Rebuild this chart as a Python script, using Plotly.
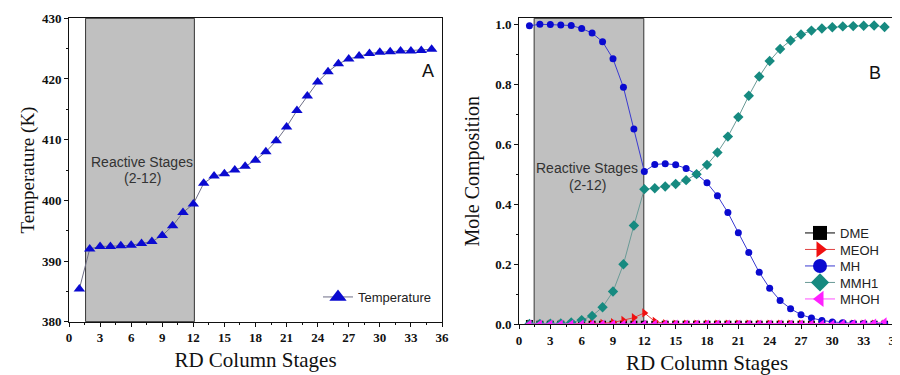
import plotly.graph_objects as go

# ---------------- data ----------------
stages = list(range(1, 36))

temperature = [385.4, 392.0, 392.4, 392.4, 392.5, 392.6, 392.9, 393.2, 394.2, 395.8,
               398.0, 399.4, 402.8, 404.0, 404.4, 405.0, 405.6, 406.6, 408.0, 409.8,
               412.1, 414.8, 417.2, 419.5, 421.2, 422.5, 423.3, 423.8, 424.2, 424.4,
               424.5, 424.6, 424.6, 424.7, 424.9]

dme = [0.003] + [0.0] * 34
meoh = [0.001, 0.001, 0.001, 0.001, 0.001, 0.001, 0.002, 0.003, 0.006, 0.013,
        0.022, 0.038, 0.010, 0.002, 0.001, 0.001, 0.001, 0.001, 0.001, 0.001,
        0.001, 0.001, 0.001, 0.001, 0.001, 0.001, 0.001, 0.001, 0.001, 0.001,
        0.001, 0.001, 0.001, 0.001, 0.001]
mh = [0.994, 0.999, 0.998, 0.997, 0.995, 0.985, 0.970, 0.941, 0.884, 0.789,
      0.650, 0.509, 0.532, 0.535, 0.531, 0.519, 0.500, 0.471, 0.428, 0.372,
      0.305, 0.239, 0.173, 0.120, 0.079, 0.052, 0.032, 0.021, 0.013, 0.008,
      0.005, 0.003, 0.002, 0.001, 0.001]
mmh1 = [0.001, 0.001, 0.002, 0.003, 0.006, 0.014, 0.028, 0.057, 0.109, 0.200,
        0.329, 0.450, 0.453, 0.459, 0.467, 0.480, 0.500, 0.531, 0.572, 0.625,
        0.690, 0.761, 0.825, 0.877, 0.917, 0.945, 0.965, 0.978, 0.985, 0.989,
        0.992, 0.993, 0.994, 0.995, 0.990]
mhoh = [0.001, 0.001, 0.001, 0.001, 0.001, 0.001, 0.001, 0.001, 0.001, 0.001,
        0.001, 0.001, 0.001, 0.001, 0.001, 0.001, 0.001, 0.001, 0.001, 0.001,
        0.001, 0.001, 0.001, 0.001, 0.001, 0.001, 0.001, 0.001, 0.001, 0.001,
        0.002, 0.002, 0.003, 0.004, 0.008]

x_ticks = [0, 3, 6, 9, 12, 15, 18, 21, 24, 27, 30, 33, 36]
temp_ticks = [380, 390, 400, 410, 420, 430]
comp_ticks = [0.0, 0.2, 0.4, 0.6, 0.8, 1.0]
x_ticktext = [f"<b>{v}</b>" for v in x_ticks]
temp_ticktext = [f"<b>{v}</b>" for v in temp_ticks]
comp_ticktext = [f"<b>{v:.1f}</b>" for v in comp_ticks]

reactive_left = (1.6, 12.1)
reactive_right = (1.45, 11.95)

# ---------------- styling ----------------
W, H, OFF = 900, 375, 8   # page body offset


def px(x):
    return (x - OFF) / W


def py(y):
    return 1 - (y - OFF) / H


SERIF = "Liberation Serif"
SANS = "Liberation Sans"
BLUE = "#0a0ad0"
TEAL = "#168a80"
RED = "#f01010"
MAGENTA = "#ff20ff"

fig = go.Figure()

fig.add_trace(go.Scatter(
    x=stages, y=temperature, name="Temperature", mode="lines+markers",
    line=dict(color="#6e6e86", width=1),
    marker=dict(symbol="triangle-up", size=10, color=BLUE),
    xaxis="x", yaxis="y", showlegend=False))
fig.add_trace(go.Scatter(
    x=[None], y=[None], name="Temperature", mode="lines+markers",
    line=dict(color="#6e6e86", width=1),
    marker=dict(symbol="triangle-up", size=15, color=BLUE),
    xaxis="x", yaxis="y", legend="legend"))

series = [
    ("DME", dme, "square", "#000000", "#000000", 7, "legend2"),
    ("MEOH", meoh, "triangle-right", RED, "#e04040", 8, "legend3"),
    ("MH", mh, "circle", BLUE, "#3a3ad0", 7, "legend4"),
    ("MMH1", mmh1, "diamond", TEAL, "#6a9a96", 8, "legend5"),
    ("MHOH", mhoh, "triangle-left", MAGENTA, "#ff50ff", 8, "legend6"),
]
for name, vals, sym, col, lcol, sz, lg in series:
    fig.add_trace(go.Scatter(
        x=stages, y=vals, name=name, mode="lines+markers",
        line=dict(color=lcol, width=1),
        marker=dict(symbol=sym, size=sz, color=col),
        xaxis="x2", yaxis="y2", showlegend=False))
for name, vals, sym, col, lcol, sz, lg in series:
    fig.add_trace(go.Scatter(
        x=[None], y=[None], name=name, mode="lines+markers",
        line=dict(color=lcol, width=1),
        marker=dict(symbol=sym, size=14, color=col),
        xaxis="x2", yaxis="y2", legend=lg))

# reactive-stage shading
fig.add_shape(type="rect", xref="x", yref="y domain", x0=reactive_left[0], x1=reactive_left[1],
              y0=0, y1=1, fillcolor="#c0c0c0", line=dict(color="#333333", width=1), layer="below")
fig.add_shape(type="rect", xref="x2", yref="y2 domain", x0=reactive_right[0], x1=reactive_right[1],
              y0=0, y1=1, fillcolor="#c0c0c0", line=dict(color="#333333", width=1), layer="below")


def tickfont():
    return dict(family=SERIF, size=13, color="#111111")


def titlefont(size=20):
    return dict(family=SERIF, size=size, color="#111111")


def main_x(domain, anchor):
    return dict(domain=domain, anchor=anchor, range=[0, 36],
                tickmode="array", tickvals=x_ticks, ticktext=x_ticktext,
                ticks="outside", ticklen=4, tickwidth=1, tickcolor="#111",
                minor=dict(dtick=1.5, tick0=0, ticks="outside", ticklen=2, tickcolor="#111"),
                showline=True, linecolor="#111", linewidth=1, mirror=True,
                showgrid=False, zeroline=False, tickfont=tickfont(),
                title=dict(text="RD Column Stages", font=titlefont(21), standoff=8))


def overlay_x(over, anchor):
    return dict(overlaying=over, anchor=anchor, side="top", range=[0, 36], tickvals=x_ticks,
                ticks="inside", ticklen=4, tickcolor="#111", showticklabels=False,
                minor=dict(dtick=1.5, tick0=0, ticks="inside", ticklen=2, tickcolor="#111"),
                showline=False, showgrid=False, zeroline=False)


fig.update_layout(
    width=W, height=H, margin=dict(l=0, r=0, t=0, b=0, autoexpand=False),
    paper_bgcolor="white", plot_bgcolor="white", showlegend=True,
    xaxis=main_x([px(69), px(442)], "y"),
    yaxis=dict(domain=[py(321.7), py(18.3)], anchor="x", range=[380, 430],
               tickmode="array", tickvals=temp_ticks, ticktext=temp_ticktext,
               ticks="outside", ticklen=4, tickcolor="#111",
               minor=dict(dtick=5, ticks="outside", ticklen=2, tickcolor="#111"),
               showline=True, linecolor="#111", linewidth=1, mirror=True,
               showgrid=False, zeroline=False, tickfont=tickfont(),
               title=dict(text="Temperature (K)", font=titlefont(19), standoff=2)),
    xaxis3=overlay_x("x", "y"),
    yaxis3=dict(overlaying="y", anchor="x", side="right", range=[380, 430], tickvals=temp_ticks,
                ticks="inside", ticklen=4, tickcolor="#111", showticklabels=False,
                minor=dict(dtick=5, ticks="inside", ticklen=2, tickcolor="#111"),
                showline=False, showgrid=False, zeroline=False),
    xaxis2=main_x([px(519), px(895)], "y2"),
    yaxis2=dict(domain=[py(324.3), py(18.3)], anchor="x2", range=[0, 1.019],
                tickmode="array", tickvals=comp_ticks, ticktext=comp_ticktext,
                ticks="outside", ticklen=4, tickcolor="#111",
                minor=dict(dtick=0.1, ticks="outside", ticklen=2, tickcolor="#111"),
                showline=True, linecolor="#111", linewidth=1, mirror=True,
                showgrid=False, zeroline=False, tickfont=tickfont(),
                title=dict(text="Mole Composition", font=titlefont(20), standoff=10)),
    xaxis4=overlay_x("x2", "y2"),
    yaxis4=dict(overlaying="y2", anchor="x2", side="right", range=[0, 1.019], tickvals=comp_ticks,
                ticks="inside", ticklen=4, tickcolor="#111", showticklabels=False,
                minor=dict(dtick=0.1, ticks="inside", ticklen=2, tickcolor="#111"),
                showline=False, showgrid=False, zeroline=False),
)

legfont = dict(family=SANS, size=13, color="#222222")
fig.update_layout(legend=dict(x=px(318), y=py(297), xanchor="left", yanchor="middle",
                              font=legfont, bgcolor="rgba(0,0,0,0)", borderwidth=0))
leg_y = [233, 249.5, 266, 282.5, 299]
for i, yy in enumerate(leg_y):
    fig.update_layout({f"legend{i + 2}": dict(x=px(800), y=py(yy), xanchor="left",
                                              yanchor="middle", font=legfont,
                                              bgcolor="rgba(0,0,0,0)", borderwidth=0)})

ann_font = dict(family=SANS, size=14, color="#333333")
for xc, y1, y2 in [(142, 162, 178), (587, 168, 185)]:
    fig.add_annotation(text="Reactive Stages", x=px(xc), y=py(y1), xref="paper", yref="paper",
                       showarrow=False, font=ann_font, xanchor="center", yanchor="middle")
    fig.add_annotation(text="(2-12)", x=px(xc), y=py(y2), xref="paper", yref="paper",
                       showarrow=False, font=ann_font, xanchor="center", yanchor="middle")
fig.add_annotation(text="A", x=px(428), y=py(71), xref="paper", yref="paper",
                   showarrow=False, font=dict(family=SANS, size=18, color="#111"),
                   xanchor="center", yanchor="middle")
fig.add_annotation(text="B", x=px(875), y=py(73), xref="paper", yref="paper",
                   showarrow=False, font=dict(family=SANS, size=18, color="#111"),
                   xanchor="center", yanchor="middle")

fig.write_html("out.html")
